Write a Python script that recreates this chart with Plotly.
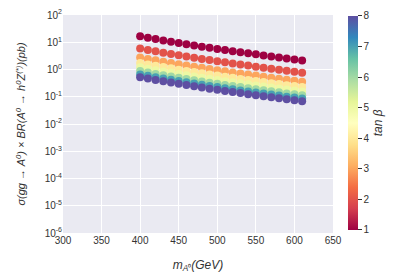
import plotly.graph_objects as go

# x values: m_A0 (GeV)
mA = [400, 410, 420, 430, 440, 450, 460, 470, 480, 490, 500,
      510, 520, 530, 540, 550, 560, 570, 580, 590, 600, 610]

tanb_values = [1, 2, 3, 4, 5, 6, 7, 8]

xsec_tb1 = [16.6, 14.7, 13.1, 11.7, 10.5, 9.42, 8.47, 7.64, 6.90, 6.25, 5.68,
            5.16, 4.71, 4.30, 3.93, 3.59, 3.29, 3.01, 2.77, 2.54, 2.34, 2.15]
xsec_tb2 = [5.89, 5.22, 4.65, 4.15, 3.73, 3.34, 3.01, 2.71, 2.45, 2.22, 2.02,
            1.83, 1.67, 1.53, 1.40, 1.27, 1.17, 1.07, 0.983, 0.902, 0.831, 0.763]
xsec_tb3 = [2.76, 2.44, 2.17, 1.94, 1.74, 1.56, 1.41, 1.27, 1.15, 1.04, 0.943,
            0.857, 0.782, 0.714, 0.652, 0.596, 0.546, 0.500, 0.460, 0.422, 0.388, 0.357]
xsec_tb4 = [1.74, 1.54, 1.38, 1.23, 1.10, 0.989, 0.889, 0.802, 0.725, 0.656, 0.596,
            0.542, 0.495, 0.452, 0.413, 0.377, 0.345, 0.316, 0.291, 0.267, 0.246, 0.226]
xsec_tb5 = [1.20, 1.06, 0.948, 0.847, 0.760, 0.682, 0.613, 0.553, 0.500, 0.453, 0.411,
            0.374, 0.341, 0.311, 0.285, 0.260, 0.238, 0.218, 0.201, 0.184, 0.169, 0.156]
xsec_tb6 = [0.872, 0.772, 0.688, 0.614, 0.551, 0.495, 0.445, 0.401, 0.362, 0.328, 0.298,
            0.271, 0.247, 0.226, 0.206, 0.188, 0.173, 0.158, 0.145, 0.133, 0.123, 0.113]
xsec_tb7 = [0.661, 0.585, 0.521, 0.466, 0.418, 0.375, 0.337, 0.304, 0.275, 0.249, 0.226,
            0.205, 0.187, 0.171, 0.156, 0.143, 0.131, 0.120, 0.110, 0.101, 0.0931, 0.0856]
xsec_tb8 = [0.525, 0.465, 0.414, 0.370, 0.332, 0.298, 0.268, 0.241, 0.218, 0.198, 0.179,
            0.163, 0.149, 0.136, 0.124, 0.113, 0.104, 0.0951, 0.0875, 0.0803, 0.0739, 0.0679]

series = [xsec_tb1, xsec_tb2, xsec_tb3, xsec_tb4, xsec_tb5, xsec_tb6, xsec_tb7, xsec_tb8]

y_tickvals = [1e-6, 1e-5, 1e-4, 1e-3, 1e-2, 1e-1, 1e0, 1e1, 1e2]
y_ticktext = ["10<sup>-6</sup>", "10<sup>-5</sup>", "10<sup>-4</sup>", "10<sup>-3</sup>",
              "10<sup>-2</sup>", "10<sup>-1</sup>", "10<sup>0</sup>", "10<sup>1</sup>",
              "10<sup>2</sup>"]
x_tickvals = [300, 350, 400, 450, 500, 550, 600, 650]

xs, ys, cs = [], [], []
for tb, vals in zip(tanb_values, series):
    xs += mA
    ys += vals
    cs += [tb] * len(vals)

txt = "#333333"
fig = go.Figure()
fig.add_trace(go.Scatter(
    x=xs, y=ys, mode="markers",
    marker=dict(
        size=8, color=cs, colorscale="Spectral", cmin=1, cmax=8,
        line=dict(width=0),
        colorbar=dict(
            title=dict(text="<i>tan β</i>", side="right", font=dict(size=12, color=txt)),
            tickvals=tanb_values, ticks="outside", ticklen=4, tickcolor=txt,
            tickfont=dict(size=10, color=txt),
            outlinewidth=0, thickness=10,
            len=0.98, lenmode="fraction", y=0.505, yanchor="middle",
            x=1.055, xanchor="left", xpad=0, ypad=0,
        ),
    ),
    showlegend=False,
))

fig.update_layout(
    width=400, height=279,
    margin=dict(l=63, r=67, t=15, b=46, autoexpand=False),
    paper_bgcolor="white", plot_bgcolor="#EAEAF2",
    font=dict(family="Liberation Sans, Arial, sans-serif", color=txt, size=10),
    xaxis=dict(
        range=[300, 650], tickvals=x_tickvals, showgrid=True, gridcolor="white",
        gridwidth=1, zeroline=False, showline=False, ticks="", automargin=False,
        tickfont=dict(size=10, color=txt),
        title=dict(text="<i>m</i><sub><i>A</i>⁰</sub><i>(GeV)</i>", font=dict(size=12, color=txt), standoff=15),
    ),
    yaxis=dict(
        type="log", range=[-6, 2], tickvals=y_tickvals, ticktext=y_ticktext,
        showgrid=True, gridcolor="white", gridwidth=1, zeroline=False, showline=False,
        ticks="", tickfont=dict(size=10, color=txt), automargin=False,
        title=dict(text="<i>σ(gg → A<sup>0</sup>) × BR(A<sup>0</sup> → h<sup>0</sup>Z<sup>(*)</sup>)(pb)</i>",
                   font=dict(size=11, color=txt), standoff=16),
    ),
)

fig.write_html("out.html", config={"displayModeBar": False},
               post_script="document.body.style.margin='0px';")
